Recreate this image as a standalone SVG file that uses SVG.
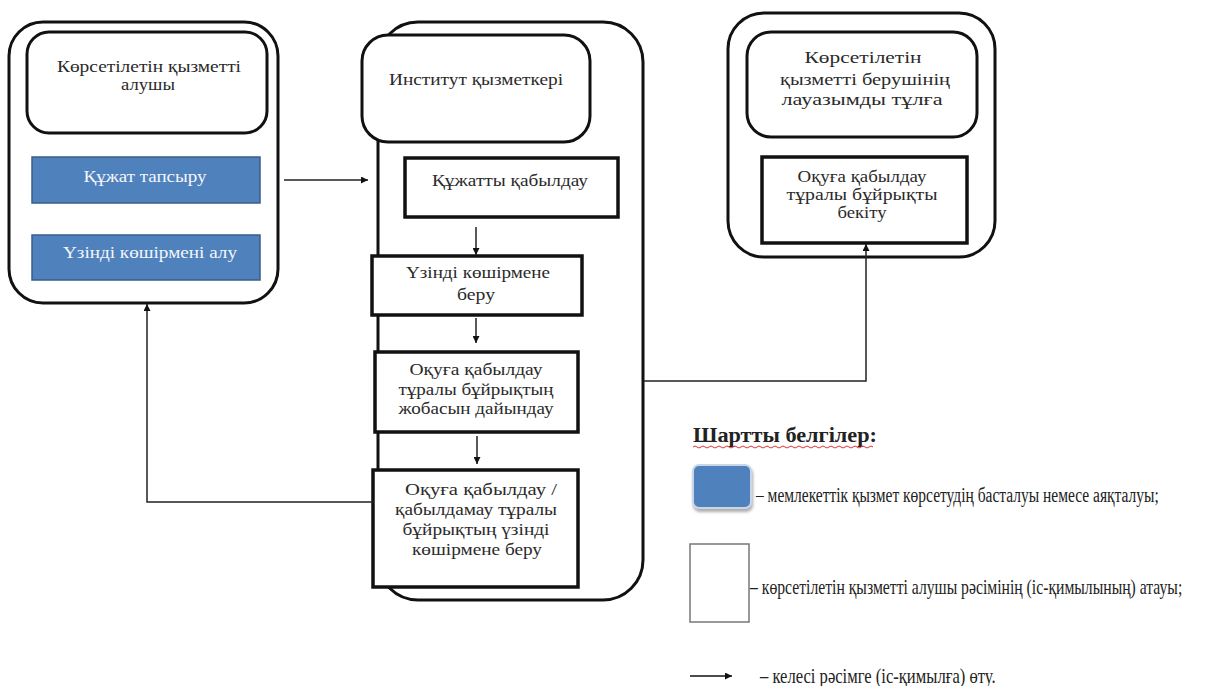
<svg xmlns="http://www.w3.org/2000/svg" width="1222" height="686" viewBox="0 0 1222 686">
<style>
.t{font-family:"Liberation Serif","DejaVu Serif","Times New Roman",serif;font-size:16px;fill:#2a2a2a;text-anchor:middle}
.tw{font-family:"Liberation Serif","DejaVu Serif","Times New Roman",serif;font-size:16px;fill:#f4f6fa;text-anchor:middle}
.lg{font-family:"Liberation Serif","DejaVu Serif","Times New Roman",serif;font-size:20px;fill:#222}
.outer{fill:none;stroke:#111;stroke-width:3}
.hdr{fill:#fff;stroke:#111;stroke-width:3}
.box{fill:#fff;stroke:#111;stroke-width:3.5}
.blue{fill:#4F81BD;stroke:#385D8A;stroke-width:1.5}
.conn{fill:none;stroke:#222;stroke-width:1.5}
</style>
<defs>
<marker id="ah" viewBox="0 0 10 10" refX="10" refY="5" markerWidth="7" markerHeight="7" orient="auto" markerUnits="userSpaceOnUse">
<path d="M0,0 L10,5 L0,10 z" fill="#111"/>
</marker>
<filter id="sh" x="-20%" y="-20%" width="150%" height="150%">
<feDropShadow dx="1" dy="3" stdDeviation="1.5" flood-color="#777" flood-opacity="0.6"/>
</filter>
</defs>
<rect width="1222" height="686" fill="#fff"/>

<g id="left-lane">
<rect class="outer" x="9" y="22" width="269" height="281" rx="34"/>
<rect class="hdr" x="27" y="32" width="240" height="101" rx="22"/>
<text class="t" x="149" y="72" textLength="184" lengthAdjust="spacingAndGlyphs">Көрсетілетін қызметті</text>
<text class="t" x="148" y="90" textLength="54" lengthAdjust="spacingAndGlyphs">алушы</text>
</g>
<g id="n-submit">
<rect class="blue" x="32" y="157" width="228" height="46"/>
<text class="tw" x="145" y="182" textLength="123" lengthAdjust="spacingAndGlyphs">Құжат тапсыру</text>
</g>
<g id="n-receive">
<rect class="blue" x="32" y="235" width="228" height="45"/>
<text class="tw" x="150" y="258" textLength="174" lengthAdjust="spacingAndGlyphs">Үзінді көшірмені алу</text>
</g>

<g id="middle-lane">
<rect class="outer" x="378" y="22" width="265" height="578" rx="40"/>
<rect class="hdr" x="362" y="35" width="228" height="107" rx="26"/>
<text class="t" x="476" y="85" textLength="174" lengthAdjust="spacingAndGlyphs">Институт қызметкері</text>
</g>
<g id="n-accept">
<rect class="box" x="405" y="158" width="213" height="59"/>
<text class="t" x="510" y="186" textLength="156" lengthAdjust="spacingAndGlyphs">Құжатты қабылдау</text>
</g>
<g id="n-copy">
<rect class="box" x="372" y="256" width="210" height="59"/>
<text class="t" x="478" y="278" textLength="144" lengthAdjust="spacingAndGlyphs">Үзінді көшірмене</text>
<text class="t" x="476" y="300" textLength="38" lengthAdjust="spacingAndGlyphs">беру</text>
</g>
<g id="n-draft">
<rect class="box" x="375" y="352" width="203" height="80"/>
<text class="t" x="476" y="375" textLength="133" lengthAdjust="spacingAndGlyphs">Оқуға қабылдау</text>
<text class="t" x="476" y="395" textLength="155" lengthAdjust="spacingAndGlyphs">тұралы бұйрықтың</text>
<text class="t" x="476" y="414" textLength="155" lengthAdjust="spacingAndGlyphs">жобасын дайындау</text>
</g>
<g id="n-issue">
<rect class="box" x="373" y="470" width="205" height="117"/>
<text class="t" x="481" y="495" textLength="152" lengthAdjust="spacingAndGlyphs">Оқуға қабылдау /</text>
<text class="t" x="476" y="515" textLength="162" lengthAdjust="spacingAndGlyphs">қабылдамау тұралы</text>
<text class="t" x="476" y="535" textLength="147" lengthAdjust="spacingAndGlyphs">бұйрықтың үзінді</text>
<text class="t" x="477" y="555" textLength="130" lengthAdjust="spacingAndGlyphs">көшірмене беру</text>
</g>

<g id="right-lane">
<rect class="outer" x="728" y="13" width="267" height="244" rx="36"/>
<rect class="hdr" x="747" y="32" width="230" height="105" rx="24"/>
<text class="t" x="863" y="63" textLength="117" lengthAdjust="spacingAndGlyphs">Көрсетілетін</text>
<text class="t" x="865" y="85" textLength="170" lengthAdjust="spacingAndGlyphs">қызметті берушінің</text>
<text class="t" x="862" y="105" textLength="161" lengthAdjust="spacingAndGlyphs">лауазымды тұлға</text>
</g>
<g id="n-approve">
<rect class="box" x="762" y="157" width="205" height="86"/>
<text class="t" x="862" y="182" textLength="129" lengthAdjust="spacingAndGlyphs">Оқуға қабылдау</text>
<text class="t" x="862" y="200" textLength="151" lengthAdjust="spacingAndGlyphs">тұралы бұйрықты</text>
<text class="t" x="862" y="218" textLength="49" lengthAdjust="spacingAndGlyphs">бекіту</text>
</g>

<g id="connectors">
<line class="conn" x1="284" y1="180" x2="368" y2="180" marker-end="url(#ah)"/>
<line class="conn" x1="476" y1="227" x2="476" y2="255" marker-end="url(#ah)"/>
<line class="conn" x1="476" y1="318" x2="476" y2="343" marker-end="url(#ah)"/>
<line class="conn" x1="477" y1="436" x2="477" y2="464" marker-end="url(#ah)"/>
<polyline class="conn" points="374,502 147,502 147,304" marker-end="url(#ah)"/>
<polyline class="conn" points="643,381 866,381 866,244" marker-end="url(#ah)"/>
</g>

<g id="legend">
<text x="693" y="442" font-family="'Liberation Serif','DejaVu Serif','Times New Roman',serif" font-size="20" font-weight="bold" fill="#222" textLength="184" lengthAdjust="spacingAndGlyphs">Шартты белгілер:</text>
<path d="M693,447 q2,-2 4,0 t4,0 t4,0 t4,0 t4,0 t4,0 t4,0 t4,0 t4,0 t4,0 t4,0 t4,0 t4,0 t4,0 t4,0 t4,0 t4,0 t4,0 t4,0 t4,0 t4,0 t4,0 t4,0 t4,0 t4,0 t4,0 t4,0 t4,0 t4,0 t4,0 t4,0 t4,0 t4,0 t4,0 t4,0 t4,0 t4,0 t4,0 t4,0 t4,0 t4,0 t4,0 t4,0 t4,0 t4,0" fill="none" stroke="#d33" stroke-width="1"/>
<rect x="693" y="465" width="58" height="43" rx="6" fill="#4F81BD" stroke="#c9d6e8" stroke-width="2" filter="url(#sh)"/>
<text class="lg" transform="translate(756,502) scale(0.775,1)">– мемлекеттік қызмет көрсетудің басталуы немесе аяқталуы;</text>
<rect x="690" y="544" width="59" height="78" fill="#fff" stroke="#777" stroke-width="1.5"/>
<text class="lg" transform="translate(750,594) scale(0.785,1)">– көрсетілетін қызметті алушы рәсімінің (іс-қимылының) атауы;</text>
<line x1="690" y1="676" x2="732" y2="676" stroke="#111" stroke-width="1.5" marker-end="url(#ah)"/>
<text class="lg" transform="translate(760,683) scale(0.83,1)">– келесі рәсімге (іс-қимылға) өту.</text>
</g>
</svg>
